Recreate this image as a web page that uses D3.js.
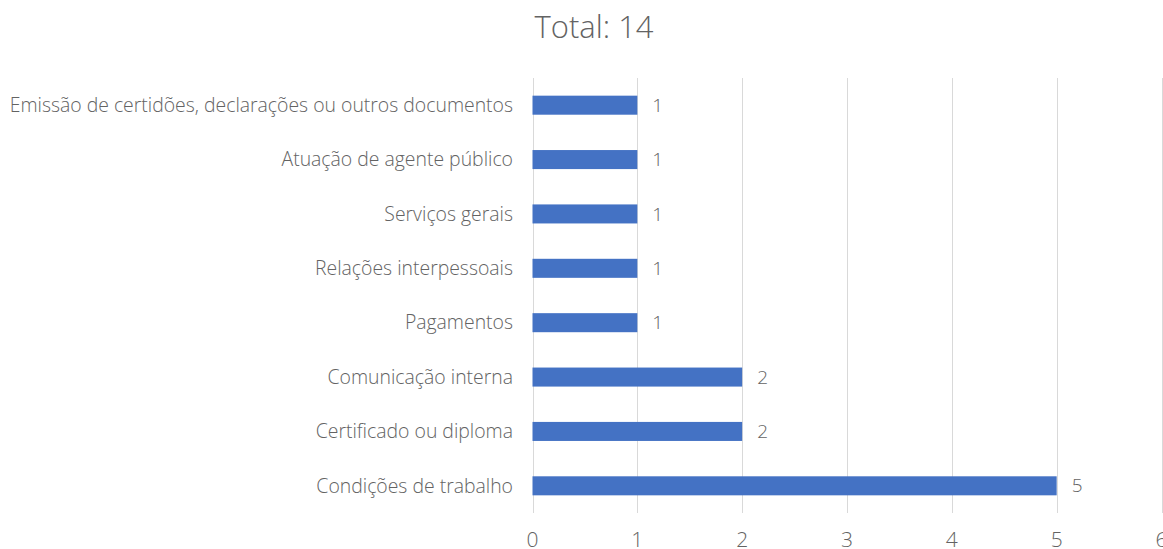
<!DOCTYPE html>
<html>
<head>
<meta charset="utf-8">
<script src="https://cdn.jsdelivr.net/npm/d3@7"></script>
<style>
  body { margin: 0; background: #fff; }
  text { font-family: "Open Sans", sans-serif; font-weight: 300; fill: #636363; }
</style>
</head>
<body>
<div id="chart-area"></div>
<script>
// data
let categories = [
  "Emissão de certidões, declarações ou outros documentos",
  "Atuação de agente público",
  "Serviços gerais",
  "Relações interpessoais",
  "Pagamentos",
  "Comunicação interna",
  "Certificado ou diploma",
  "Condições de trabalho"
];
let counts = [1, 1, 1, 1, 1, 2, 2, 5];
let xTicks = [0, 1, 2, 3, 4, 5, 6];
let title = "Total: 14";

let width = 1163, height = 549;
let margin = {top: 78, right: 2, bottom: 36, left: 532.5};

let svg = d3.select("#chart-area").append("svg")
  .attr("width", width)
  .attr("height", height);

let x = d3.scaleLinear()
  .domain([0, 6])
  .range([margin.left, 1161.5]);

let y = d3.scaleBand()
  .domain(categories)
  .range([margin.top, height - margin.bottom])
  .paddingInner(0.65)
  .paddingOuter(0.325);

// gridlines
svg.selectAll(".grid")
  .data(xTicks)
  .enter()
  .append("line")
  .attr("x1", d => Math.round(x(d)) + 0.5)
  .attr("x2", d => Math.round(x(d)) + 0.5)
  .attr("y1", margin.top)
  .attr("y2", height - margin.bottom)
  .attr("stroke", "#d9d9d9")
  .attr("stroke-width", 1);

// bars
svg.selectAll(".bar")
  .data(categories)
  .enter()
  .append("rect")
  .attr("x", x(0))
  .attr("y", d => y(d))
  .attr("width", (d, i) => x(counts[i]) - x(0))
  .attr("height", y.bandwidth())
  .attr("fill", "#4472c4");

// value labels
svg.selectAll(".val")
  .data(categories)
  .enter()
  .append("text")
  .attr("x", (d, i) => x(counts[i]) + 15)
  .attr("y", d => y(d) + y.bandwidth() / 2)
  .attr("dy", "0.35em")
  .style("font-size", "19px")
  .text((d, i) => counts[i]);

// category labels
svg.selectAll(".cat")
  .data(categories)
  .enter()
  .append("text")
  .attr("text-anchor", "end")
  .attr("x", 513)
  .attr("y", d => y(d) + y.bandwidth() / 2)
  .attr("dy", "0.35em")
  .style("font-size", "19.4px")
  .text(d => d);

// x axis tick labels
svg.selectAll(".tick-label")
  .data(xTicks)
  .enter()
  .append("text")
  .attr("text-anchor", "middle")
  .attr("x", d => x(d))
  .attr("y", 540)
  .attr("dy", "0.35em")
  .style("font-size", "21px")
  .text(d => d);

svg.append("text")
  .attr("text-anchor", "middle")
  .attr("x", 594)
  .attr("y", 27)
  .attr("dy", "0.35em")
  .style("font-size", "31px")
  .text(title);
</script>
</body>
</html>
